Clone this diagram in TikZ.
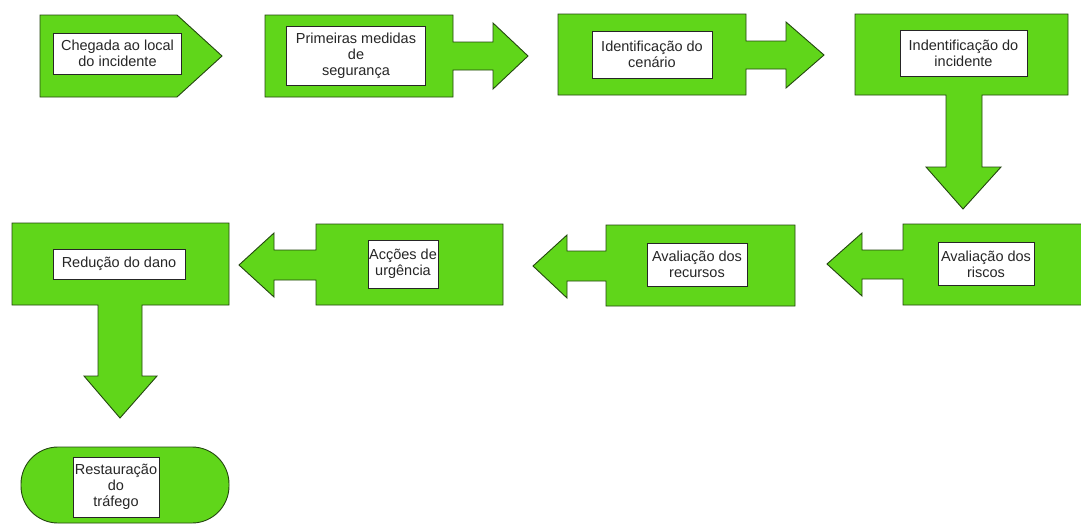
\documentclass[tikz,border=0pt]{standalone}
\usepackage{fontspec}
\setmainfont{Liberation Sans}
\definecolor{gfill}{RGB}{96,214,26}
\definecolor{gline}{RGB}{35,70,15}
\begin{document}
\begin{tikzpicture}[x=1pt,y=-1pt,
  greenshape/.style={fill=gfill,draw=gline,line width=0.9pt,line join=miter},
  txtbox/.style={draw=black!85,fill=white,line width=0.8pt,font=\fontsize{14.5}{16}\selectfont,align=center,inner sep=0pt,text=black!85}]
\useasboundingbox (0,0) rectangle (1081,525);
\fill[white] (0,0) rectangle (1081,525);
% green shapes
\draw[greenshape] (40,15) -- (177,15) -- (222,56) -- (177,97) -- (40,97) -- cycle;
\draw[greenshape] (265,15) -- (453,15) -- (453,42) -- (493,42) -- (493,23) -- (528,56) -- (493,89) -- (493,70) -- (453,70) -- (453,97) -- (265,97) -- cycle;
\draw[greenshape] (558,14) -- (746,14) -- (746,41) -- (786,41) -- (786,22) -- (824,55) -- (786,88) -- (786,69) -- (746,69) -- (746,95) -- (558,95) -- cycle;
\draw[greenshape] (855,14) -- (1068,14) -- (1068,95) -- (982,95) -- (982,167) -- (1001,167) -- (963,209) -- (926,167) -- (946,167) -- (946,95) -- (855,95) -- cycle;
\draw[greenshape] (12,223) -- (229,223) -- (229,305) -- (142,305) -- (142,376) -- (157,376) -- (120,418) -- (84,376) -- (98,376) -- (98,305) -- (12,305) -- cycle;
\draw[greenshape] (503,224) -- (316,224) -- (316,250) -- (274,250) -- (274,233) -- (239,265) -- (274,297) -- (274,280) -- (316,280) -- (316,305) -- (503,305) -- cycle;
\draw[greenshape] (795,225) -- (606,225) -- (606,251) -- (567,251) -- (567,235) -- (533,266) -- (567,298) -- (567,281) -- (606,281) -- (606,306) -- (795,306) -- cycle;
\draw[greenshape] (1085,224) -- (903,224) -- (903,250) -- (862,250) -- (862,233) -- (827,264) -- (862,296) -- (862,279) -- (903,279) -- (903,305) -- (1085,305) -- cycle;
\draw[greenshape,rounded corners=37pt] (21,447) rectangle (229,523);
% text boxes
\node[txtbox,minimum width=128pt,minimum height=41pt] (n1) at (117.5,53.5) {Chegada ao local\\do incidente};
\node[txtbox,minimum width=139pt,minimum height=59pt] (n2) at (356,56) {Primeiras medidas\\de\\segurança};
\node[txtbox,minimum width=120pt,minimum height=47pt] (n3) at (652,54.5) {Identificação do\\cenário};
\node[txtbox,minimum width=127pt,minimum height=46pt] (n4) at (963.5,53) {Indentificação do\\incidente};
\node[txtbox,minimum width=96pt,minimum height=43pt] (n5) at (986,264) {Avaliação dos\\riscos};
\node[txtbox,minimum width=100pt,minimum height=43pt] (n6) at (697,264.5) {Avaliação dos\\recursos};
\node[txtbox,minimum width=70pt,minimum height=48pt] (n7) at (403,264) {Acções de\\urgência};
\node[txtbox,minimum width=132pt,minimum height=30pt] (n8) at (119,264) {Redução do dano};
\node[txtbox,minimum width=86pt,minimum height=60pt] (n9) at (116,487) {Restauração\\do\\tráfego};
\end{tikzpicture}
\end{document}
